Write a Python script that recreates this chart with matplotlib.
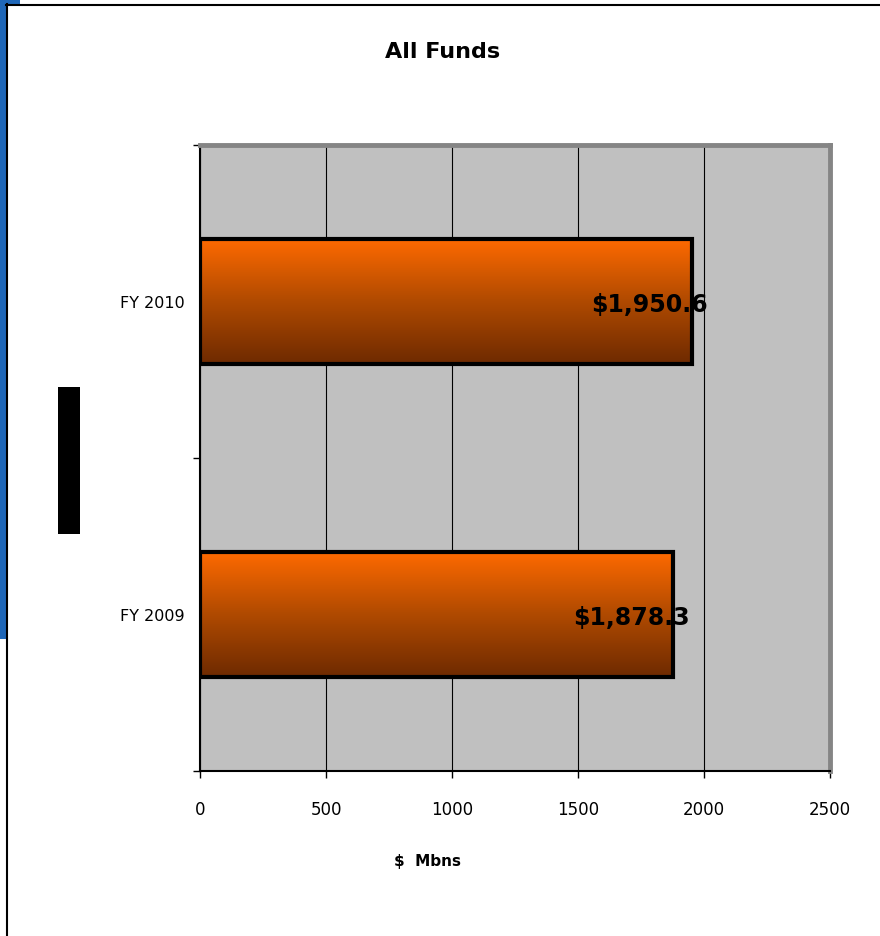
import numpy as np
import matplotlib
matplotlib.use("Agg")
import matplotlib.pyplot as plt
from matplotlib.patches import Rectangle
from matplotlib.colors import LinearSegmentedColormap

categories = ["FY 2009", "FY 2010"]
values = [1878.3, 1950.6]
labels = ["$1,878.3", "$1,950.6"]
xticks = [0, 500, 1000, 1500, 2000, 2500]

W, H = 880, 937
fig = plt.figure(figsize=(W / 100, H / 100), dpi=100)
fig.patch.set_facecolor("white")

# decorative page frame
fig.patches.append(Rectangle((0, 1 - 640 / H), 6 / W, 640 / H, transform=fig.transFigure,
                             facecolor="#1F67B8", edgecolor="none", zorder=0))
fig.patches.append(Rectangle((0, 1 - 5 / H), 20 / W, 5 / H, transform=fig.transFigure,
                             facecolor="#1F67B8", edgecolor="none", zorder=0))
fig.add_artist(plt.Line2D([6.5 / W, 6.5 / W], [0, 1 - 5 / H], transform=fig.transFigure,
                          color="black", lw=1.5))
fig.add_artist(plt.Line2D([6 / W, 1], [1 - 5.5 / H, 1 - 5.5 / H], transform=fig.transFigure,
                          color="black", lw=1.5))
fig.patches.append(Rectangle((58 / W, 1 - 535 / H), 22 / W, 147 / H, transform=fig.transFigure,
                             facecolor="black", edgecolor="none", zorder=1))

ax = fig.add_axes([200 / W, 1 - 772 / H, 630 / W, 626 / H])
ax.set_facecolor("#C0C0C0")

cmap = LinearSegmentedColormap.from_list("og", ["#6E2A00", "#B04A00", "#FF6A00"])
grad = np.linspace(0, 1, 256).reshape(-1, 1)
ypos = np.arange(len(categories))
h = 0.4
for y, v in zip(ypos, values):
    ax.imshow(grad, extent=(0, v, y - h / 2, y + h / 2), origin="lower", aspect="auto",
              cmap=cmap, zorder=2)
ax.barh(ypos, values, height=h, facecolor="none", edgecolor="black", linewidth=3, zorder=3)

for y, v, lab in zip(ypos, values, labels):
    ax.annotate(lab, (v, y), xytext=(-42, -3), textcoords="offset pixels",
                ha="center", va="center", fontsize=17, fontweight="bold", zorder=4)

ax.set_xlim(0, 2500)
ax.set_ylim(-0.5, 1.5)
ax.set_xticks(xticks)
ax.set_xticklabels([str(t) for t in xticks], fontsize=12)
ax.xaxis.grid(True, color="black", lw=0.8)
ax.set_axisbelow(True)
ax.set_yticks([-0.5, 0.5, 1.5])
ax.set_yticklabels([])
ax.set_yticks(ypos, minor=True)
ax.set_yticklabels(categories, minor=True, fontsize=11.5)
ax.tick_params(axis="y", which="minor", length=0, pad=11)
ax.tick_params(axis="y", which="major", length=5, width=1, direction="out")
ax.tick_params(axis="x", length=5, width=1, direction="out", pad=16)

for s in ["left", "bottom"]:
    ax.spines[s].set_color("black")
    ax.spines[s].set_linewidth(1.5)
for s in ["top", "right"]:
    ax.spines[s].set_color("#858585")
    ax.spines[s].set_linewidth(3.5)

fig.text(427 / W, 1 - 862 / H, "$  Mbns", ha="center", va="center",
         fontsize=11, fontweight="bold")
fig.text(443 / W, 1 - 52 / H, "All Funds", ha="center", va="center",
         fontsize=16, fontweight="bold")

fig.savefig("out.png", dpi=100)
